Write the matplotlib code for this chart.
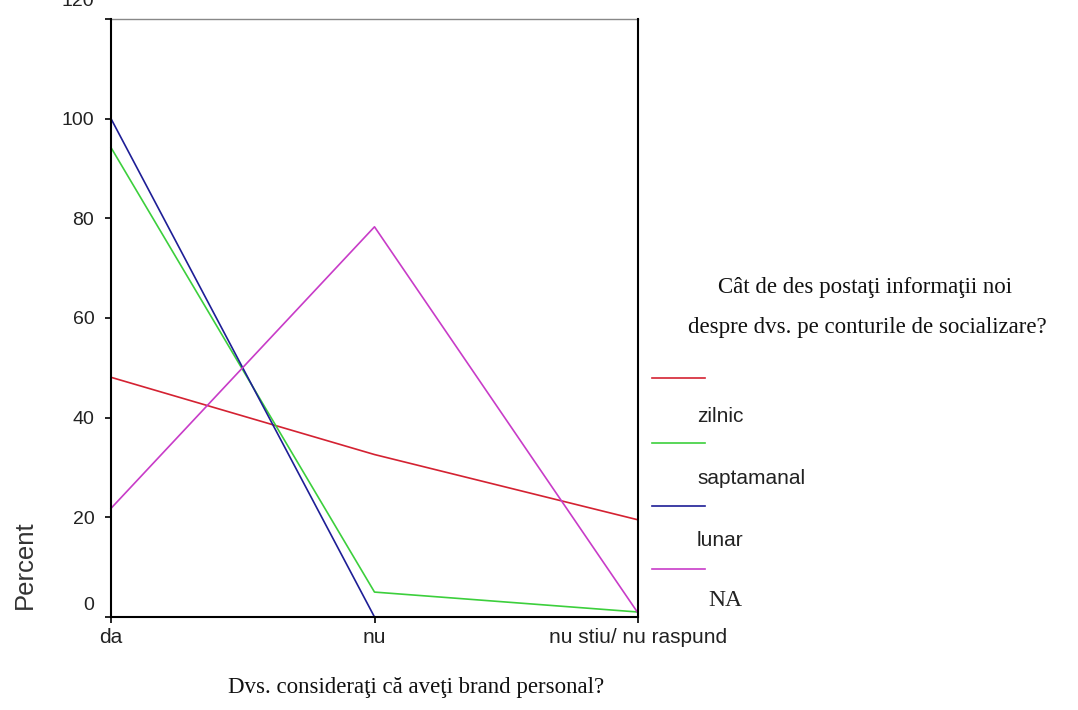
import matplotlib
matplotlib.use("Agg")
import matplotlib.pyplot as plt
from matplotlib.lines import Line2D
from matplotlib.transforms import ScaledTranslation

categories = ["da", "nu", "nu stiu/ nu raspund"]
series_names = ["zilnic", "saptamanal", "lunar", "NA"]
zilnic = [48.1, 32.6, 19.5]
saptamanal = [94.2, 5.0, 1.0]
lunar = [100.0, 0.0, 0.0]
na = [21.8, 78.3, 0.8]
series_values = [zilnic, saptamanal, lunar, na]
colors = ["#d42232", "#3ccf3c", "#1e1e96", "#c83cc8"]
yticks = [0, 20, 40, 60, 80, 100, 120]

W, H = 1078, 710
fig = plt.figure(figsize=(W / 100, H / 100), dpi=100)
ax = fig.add_axes([111 / W, 1 - 617 / H, (638 - 111) / W, (617 - 19) / H])

x = list(range(len(categories)))
for vals, c in zip(series_values, colors):
    ax.plot(x, vals, color=c, lw=1.2, zorder=2, clip_on=False)

ax.set_xlim(0, len(categories) - 1)
ax.set_ylim(0, 120)
ax.set_yticks(yticks)
ax.set_yticklabels([str(t) for t in yticks], fontfamily="Liberation Sans", fontsize=14, color="#222222")
ax.set_xticks(x)
ax.set_xticklabels(categories, fontfamily="Liberation Sans", fontsize=15, color="#222222")
ax.tick_params(axis="both", direction="out", length=4, width=1.2, color="black")
ax.tick_params(axis="y", pad=8)
ax.tick_params(axis="x", pad=4)
for s in ["left", "bottom", "right"]:
    ax.spines[s].set_linewidth(1.5)
    ax.spines[s].set_color("black")
    ax.spines[s].set_zorder(3)
ax.spines["top"].set_color("#888888")
ax.spines["top"].set_linewidth(1.0)

# the first and last y labels sit above their ticks in the original
ylabels = ax.get_yticklabels()
for idx, shift in ((0, 14), (len(ylabels) - 1, 20)):
    lab = ylabels[idx]
    lab.set_transform(lab.get_transform() + ScaledTranslation(0, shift / 100, fig.dpi_scale_trans))

# axis titles
fig.text(25 / W, 1 - 565 / H, "Percent", rotation=90, ha="center", va="center",
         fontfamily="Liberation Sans", fontsize=18.5, color="#333333")
fig.text(416 / W, 1 - 688 / H, "Dvs. consideraţi că aveţi brand personal?", ha="center", va="center",
         fontfamily="Liberation Serif", fontsize=16.5, color="#111111")

# legend
fig.text(865 / W, 1 - 287 / H, "Cât de des postaţi informaţii noi", ha="center", va="center",
         fontfamily="Liberation Serif", fontsize=16.5, color="#111111")
fig.text(867 / W, 1 - 327 / H, "despre dvs. pe conturile de socializare?", ha="center", va="center",
         fontfamily="Liberation Serif", fontsize=16.5, color="#111111")
line_y = [378, 443, 506, 569]
label_y = [417, 478, 540, 601]
for i, (name, c) in enumerate(zip(series_names, colors)):
    fig.add_artist(Line2D([652 / W, 705 / W], [1 - line_y[i] / H] * 2, color=c, lw=1.2))
    if name == "NA":
        fig.text(708 / W, 1 - label_y[i] / H, name, ha="left", va="center",
                 fontfamily="Liberation Serif", fontsize=17, color="#222222")
    else:
        fig.text(697 / W, 1 - label_y[i] / H, name, ha="left", va="center",
                 fontfamily="Liberation Sans", fontsize=15, color="#222222")

fig.savefig("out.png", dpi=100)
